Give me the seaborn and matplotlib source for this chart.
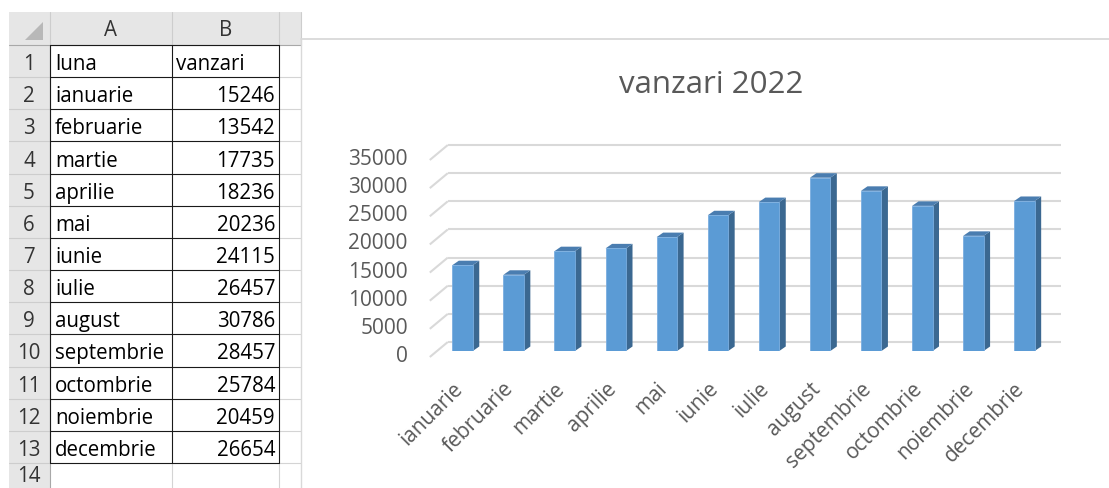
import matplotlib
matplotlib.use('Agg')
import matplotlib.pyplot as plt
import seaborn as sns
import pandas as pd
from matplotlib.patches import Polygon, Rectangle
from matplotlib.transforms import ScaledTranslation

# ---------------- data ----------------
months = ["ianuarie", "februarie", "martie", "aprilie", "mai", "iunie", "iulie",
          "august", "septembrie", "octombrie", "noiembrie", "decembrie"]
sales = [15246, 13542, 17735, 18236, 20236, 24115, 26457, 30786, 28457, 25784, 20459, 26654]
col_header = ["luna", "vanzari"]
col_letters = ["A", "B"]
title = "vanzari 2022"
y_ticks = [0, 5000, 10000, 15000, 20000, 25000, 30000, 35000]

sns.set_theme(style="white")
plt.rcParams['font.family'] = ['Open Sans', 'DejaVu Sans']

W, H = 1109, 488
fig = plt.figure(figsize=(W / 100, H / 100), dpi=100)
fig.patch.set_facecolor('white')

# ---------------- spreadsheet (pixel coordinates) ----------------
ax0 = fig.add_axes([0, 0, 1, 1])
ax0.set_xlim(0, W)
ax0.set_ylim(H, 0)
ax0.axis('off')

hdr_top, hdr_bot = 12, 45
row_h = 32.15
cx = [9, 50, 172, 279, 301]
n_tab = len(months) + 1           # rows 1..13 in table
row_y = [hdr_bot + k * row_h for k in range(16)]
light = '#d4d4d4'
hdr_fill = '#e6e6e6'
lw1 = 0.8
txt_dy = 3.5

# header band & row-number column
ax0.add_patch(Rectangle((cx[0], hdr_top), cx[4] - cx[0], hdr_bot - hdr_top, facecolor=hdr_fill, edgecolor='none'))
ax0.add_patch(Rectangle((cx[0], hdr_bot), cx[1] - cx[0], H - hdr_bot, facecolor=hdr_fill, edgecolor='none'))
# corner triangle
ax0.add_patch(Polygon([(25, 40), (43, 40), (43, 22)], closed=True, facecolor='#b8b8b8', edgecolor='none'))

# header separators
for x in cx[1:]:
    ax0.plot([x, x], [hdr_top, hdr_bot], color='#cdcdcd', lw=lw1)
ax0.plot([cx[0], cx[4]], [hdr_bot, hdr_bot], color='#a8a8a8', lw=lw1)
ax0.plot([cx[1], cx[1]], [hdr_bot, H], color='#a8a8a8', lw=lw1)

# light gridlines
for k in range(1, 16):
    y = row_y[k]
    ax0.plot([cx[0], cx[1]], [y, y], color='#cdcdcd', lw=lw1)
    ax0.plot([cx[3], cx[4]], [y, y], color=light, lw=lw1)
    if k > n_tab:
        ax0.plot([cx[1], cx[3]], [y, y], color=light, lw=lw1)
for x in cx[2:4]:
    ax0.plot([x, x], [row_y[n_tab], H], color=light, lw=lw1)

# black table borders
for k in range(n_tab + 1):
    ax0.plot([cx[1], cx[3]], [row_y[k], row_y[k]], color='#1a1a1a', lw=lw1)
for x in cx[1:4]:
    ax0.plot([x, x], [row_y[0], row_y[n_tab]], color='#1a1a1a', lw=lw1)

# header letters & row numbers
fs_cell = 14.8
for j, letter in enumerate(col_letters):
    ax0.text((cx[j + 1] + cx[j + 2]) / 2, (hdr_top + hdr_bot) / 2 + 2.5, letter,
             ha='center', va='center', fontsize=fs_cell, color='#333333')
for k in range(14):
    yc = min(row_y[k] + row_h / 2 + txt_dy, H - 12)
    ax0.text(29, yc, str(k + 1), ha='center', va='center',
             fontsize=fs_cell, color='#333333')

# cell contents
ax0.text(cx[1] + 5, row_y[0] + row_h / 2 + txt_dy, col_header[0], ha='left', va='center', fontsize=fs_cell, color='black')
ax0.text(cx[2] + 4, row_y[0] + row_h / 2 + txt_dy, col_header[1], ha='left', va='center', fontsize=fs_cell, color='black')
for i, (m, v) in enumerate(zip(months, sales)):
    yc = row_y[i + 1] + row_h / 2 + txt_dy
    ax0.text(cx[1] + 5, yc, m, ha='left', va='center', fontsize=fs_cell, color='black')
    ax0.text(cx[3] - 4, yc, str(v), ha='right', va='center', fontsize=fs_cell, color='black')

# chart area border
ax0.plot([cx[4], W], [39, 39], color='#d9d9d9', lw=1.3)
ax0.plot([cx[4], cx[4]], [39, H], color='#d9d9d9', lw=1.0)

# title
ax0.text(711, 93, title, ha='center', va='baseline', fontsize=22.5, color='#595959')

# ---------------- 3D-like bar chart ----------------
ax = fig.add_axes([437 / W, (H - 351) / H, 613 / W, 197 / H])
ax.patch.set_alpha(0)
df = pd.DataFrame({'luna': months, 'vanzari': sales})
sns.barplot(data=df, x='luna', y='vanzari', ax=ax, color='#5b9bd5', saturation=1,
            width=0.4, edgecolor='#7aaee0', linewidth=0.6, zorder=3)
ax.set_xlim(-0.5, 11.5)
ax.set_ylim(0, 35000)
for s in ax.spines.values():
    s.set_visible(False)

px_x = 613 / 12.0            # pixels per category
px_y = 197 / 35000.0         # pixels per unit value
back_dx, back_dy = 10.8 / px_x, 9 / px_y
front_dx, front_dy = -7.2 / px_x, -6 / px_y
depth_dx, depth_dy = 6.5 / px_x, 4.5 / px_y

grid_col = '#d9d9d9'
for v in y_ticks:
    ax.plot([-0.5 + back_dx, 11.5 + back_dx], [v + back_dy, v + back_dy],
            color=grid_col, lw=1.5, clip_on=False, zorder=1, solid_capstyle='butt')
    ax.plot([-0.5 + front_dx, -0.5 + back_dx], [v + front_dy, v + back_dy],
            color=grid_col, lw=1.5, clip_on=False, zorder=1, solid_capstyle='butt')

for p in list(ax.patches):
    x0, w, h = p.get_x(), p.get_width(), p.get_height()
    side = Polygon([(x0 + w, 0), (x0 + w + depth_dx, depth_dy), (x0 + w + depth_dx, h + depth_dy), (x0 + w, h)],
                   closed=True, facecolor='#3b6891', edgecolor='none', zorder=2.5, clip_on=False)
    top = Polygon([(x0, h), (x0 + w, h), (x0 + w + depth_dx, h + depth_dy), (x0 + depth_dx, h + depth_dy)],
                  closed=True, facecolor='#4a7db0', edgecolor='none', zorder=2.5, clip_on=False)
    ax.add_patch(side)
    ax.add_patch(top)

ax.set_yticks(y_ticks)
ax.set_yticklabels([str(v) for v in y_ticks])
ax.set_xticks(range(len(months)))
ax.set_xticklabels(months, rotation=45, ha='right', va='center', rotation_mode='anchor')
ax.tick_params(axis='y', length=0, pad=21, labelsize=15, labelcolor='#595959')
ax.tick_params(axis='x', length=0, pad=25, labelsize=15, labelcolor='#595959')
ax.set_xlabel('')
ax.set_ylabel('')
ax.grid(False)

shift = ScaledTranslation(0, -0.03, fig.dpi_scale_trans)
for lab in ax.get_yticklabels():
    lab.set_transform(lab.get_transform() + shift)
xshift = ScaledTranslation(-0.03, 0, fig.dpi_scale_trans)
for lab in ax.get_xticklabels():
    lab.set_transform(lab.get_transform() + xshift)

fig.savefig('out.png', dpi=100)
